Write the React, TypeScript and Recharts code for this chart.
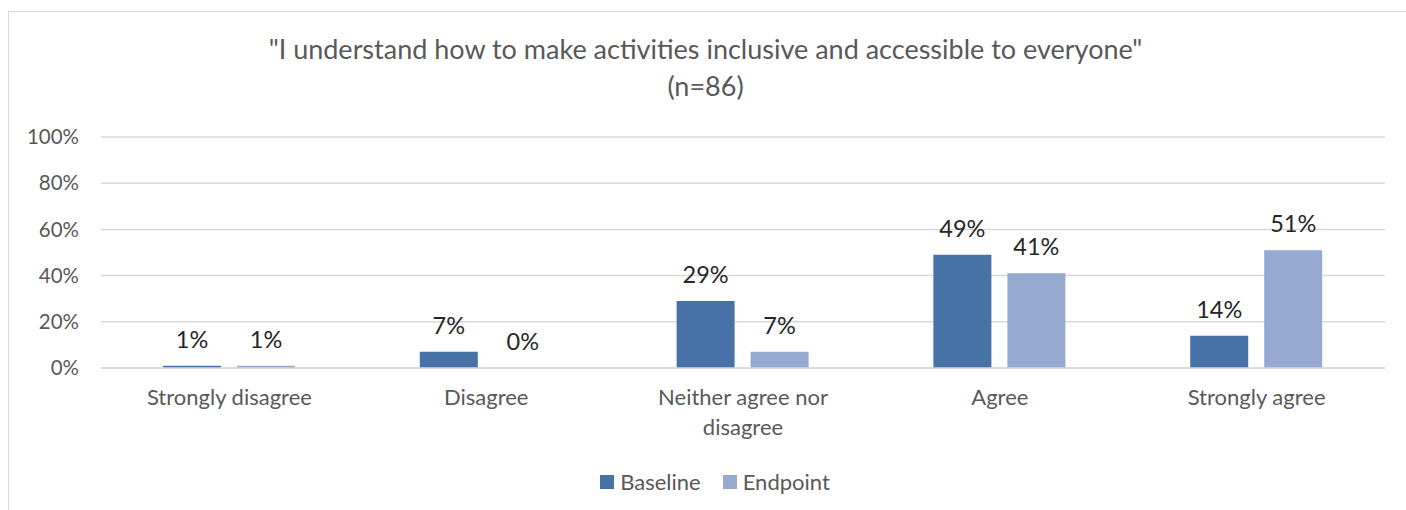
import React from 'react';
import { BarChart, Bar, XAxis, YAxis, CartesianGrid, LabelList } from 'recharts';

const categories = ['Strongly disagree', 'Disagree', 'Neither agree nor disagree', 'Agree', 'Strongly agree'];
const baseline = [1, 7, 29, 49, 14];
const endpoint = [1, 0, 7, 41, 51];
const yTicks = [0, 20, 40, 60, 80, 100];

const FONT = 'Lato, "Open Sans", sans-serif';
const BASE_COLOR = '#4672A8';
const END_COLOR = '#95A9D1';

const chartData = categories.map((name, i) => ({
  name,
  baseline: baseline[i],
  endpoint: endpoint[i],
}));

// split long category names into two lines like Excel does
function wrapLabel(text: string, maxChars = 20): string[] {
  const words = text.split(' ');
  const lines: string[] = [];
  let cur = '';
  words.forEach((w) => {
    const next = cur ? cur + ' ' + w : w;
    if (next.length > maxChars && cur) {
      lines.push(cur);
      cur = w;
    } else {
      cur = next;
    }
  });
  if (cur) lines.push(cur);
  return lines;
}

const CategoryTick = (props: any) => {
  const { x, y, payload } = props;
  const lines = wrapLabel(payload.value);
  return (
    <text x={x} y={y} textAnchor="middle" fill="#595959" fontSize={22} fontFamily={FONT}>
      {lines.map((l, i) => (
        <tspan key={i} x={x} dy={i === 0 ? 29 : 30}>
          {l}
        </tspan>
      ))}
    </text>
  );
};

// zero-value bars still need their label, so give them a hairline height
const zeroMin = (v: number) => (v === 0 ? 0.01 : 0);

export default function App() {
  return (
    <div
      style={{
        width: 1406,
        height: 510,
        padding: '11px 0 0 8px',
        boxSizing: 'border-box',
        overflow: 'hidden',
        background: '#fff',
      }}
    >
      <style>{`html, body { margin: 0; overflow: hidden; }`}</style>
      <div
        style={{
          position: 'relative',
          width: 1398,
          height: 499,
          borderTop: '1px solid #d9d9d9',
          borderLeft: '1px solid #d9d9d9',
          boxSizing: 'border-box',
          fontFamily: FONT,
        }}
      >
        <div
          style={{
            position: 'absolute',
            left: 0,
            width: 1393,
            top: 18,
            textAlign: 'center',
            color: '#595959',
            fontSize: 27,
            lineHeight: '37px',
          }}
        >
          <div>"I understand how to make activities inclusive and accessible to everyone"</div>
          <div>(n=86)</div>
        </div>
        <BarChart
          width={1397}
          height={490}
          data={chartData}
          margin={{ top: 125, right: 21, left: 0, bottom: 104 }}
          barGap={16}
          barCategoryGap={62}
        >
          <CartesianGrid vertical={false} stroke="#d9d9d9" strokeWidth={1.5} />
          <XAxis
            dataKey="name"
            height={30}
            axisLine={{ stroke: '#d9d9d9', strokeWidth: 1.5 }}
            tickLine={false}
            tick={<CategoryTick />}
            interval={0}
          />
          <YAxis
            domain={[0, 100]}
            ticks={yTicks}
            width={92}
            axisLine={false}
            tickLine={false}
            tickSize={0}
            tickMargin={22}
            tickFormatter={(v: number) => `${v}%`}
            tick={{ fill: '#595959', fontSize: 20.5, fontFamily: FONT }}
          />
          <Bar dataKey="baseline" name="Baseline" fill={BASE_COLOR} minPointSize={zeroMin} isAnimationActive={false}>
            <LabelList
              dataKey="baseline"
              position="top"
              offset={18}
              formatter={(v: any) => `${v}%`}
              style={{ fill: '#262626', fontSize: 23.5, fontFamily: FONT }}
            />
          </Bar>
          <Bar dataKey="endpoint" name="Endpoint" fill={END_COLOR} minPointSize={zeroMin} isAnimationActive={false}>
            <LabelList
              dataKey="endpoint"
              position="top"
              offset={18}
              formatter={(v: any) => `${v}%`}
              style={{ fill: '#262626', fontSize: 23.5, fontFamily: FONT }}
            />
          </Bar>
        </BarChart>
        <div
          style={{
            position: 'absolute',
            top: 456,
            left: 0,
            width: 1412,
            display: 'flex',
            justifyContent: 'center',
            alignItems: 'center',
            color: '#595959',
            fontSize: 22,
          }}
        >
          {[
            { label: 'Baseline', color: BASE_COLOR },
            { label: 'Endpoint', color: END_COLOR },
          ].map((item) => (
            <div key={item.label} style={{ display: 'flex', alignItems: 'center', margin: '0 11px' }}>
              <span style={{ width: 14, height: 14, background: item.color, marginRight: 6, display: 'inline-block' }} />
              <span>{item.label}</span>
            </div>
          ))}
        </div>
      </div>
    </div>
  );
}
